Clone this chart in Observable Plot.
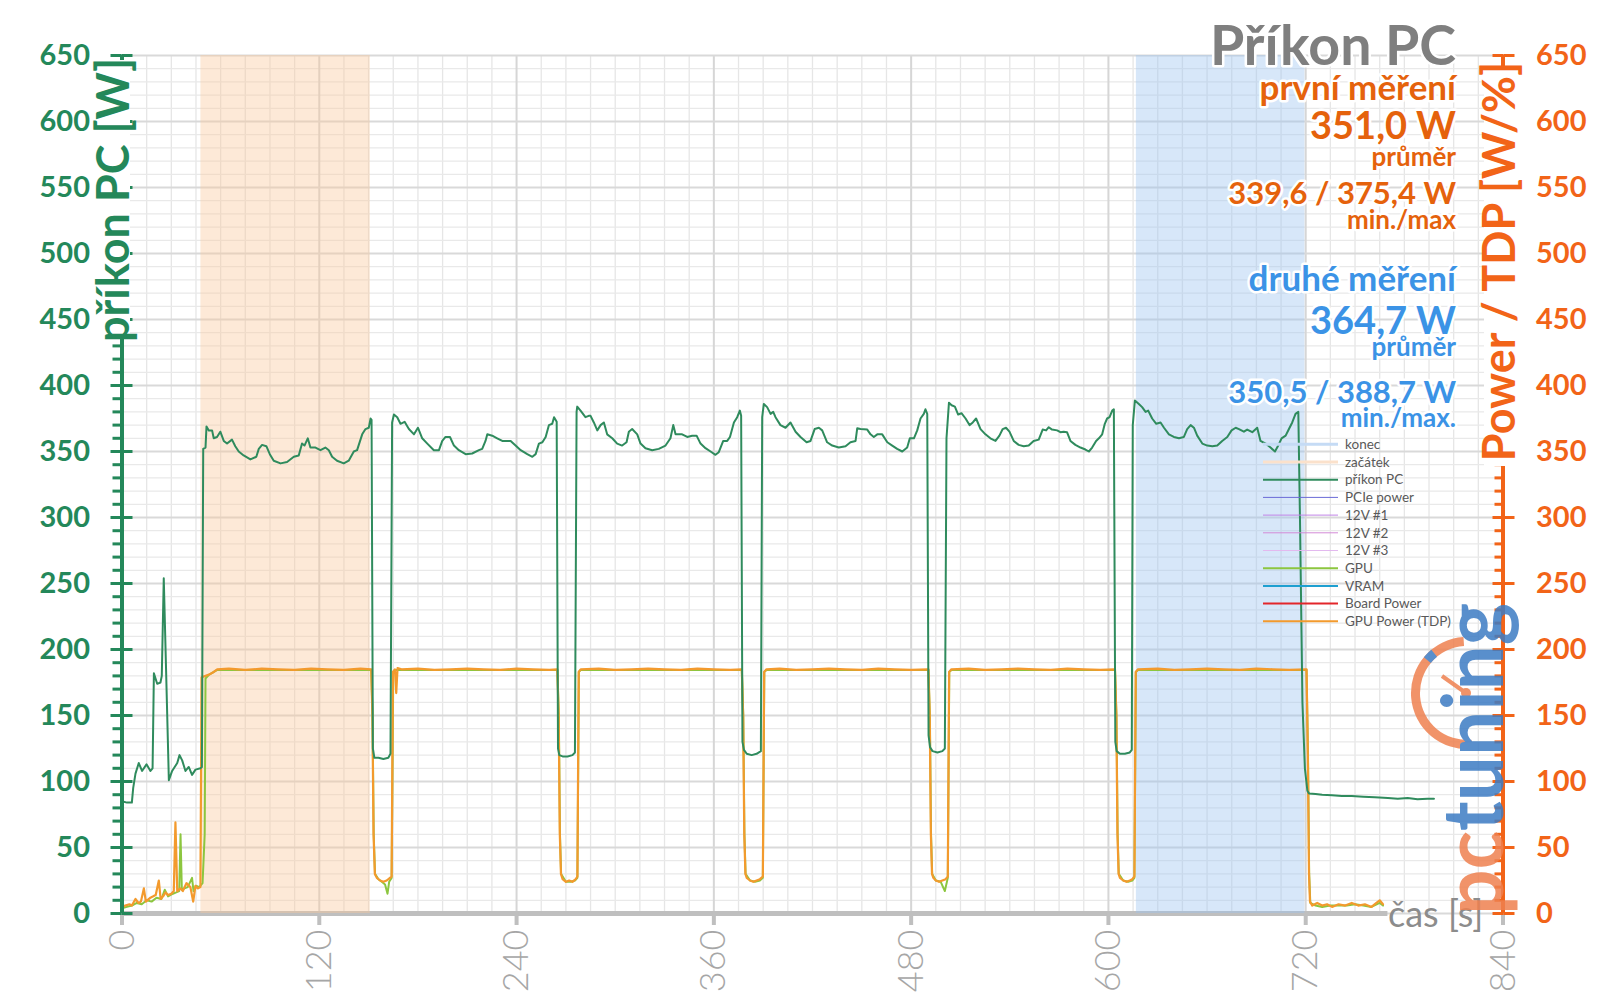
<!DOCTYPE html>
<html><head><meta charset="utf-8">
<script src="https://cdn.jsdelivr.net/npm/d3@7"></script>
<script src="https://cdn.jsdelivr.net/npm/@observablehq/plot@0.6"></script>
<style>
body{margin:0;background:#fff;}
#wrap{position:relative;width:1600px;height:1008px;overflow:hidden;font-family:Lato,"Noto Sans",sans-serif;}
#wrap svg{position:absolute;left:0;top:0;}
</style></head><body><div id="wrap"></div>
<script>
// ---------------- data ----------------
const xTicks = [0, 120, 240, 360, 480, 600, 720, 840];
const yTicks = [0, 50, 100, 150, 200, 250, 300, 350, 400, 450, 500, 550, 600, 650];
const zones = [
  {name: "začátek", start: 48, end: 151, color: "#fbc89a"},
  {name: "konec", start: 617, end: 719.5, color: "#9cc3f0"}
];
// příkon PC [W]  (time s, watts)
const pcPower = [
[0,85],[3,84],[6,84],[6.8,95],[8.2,106],[10.2,114],[12.2,108],[14.9,113],[17.3,108],[18.6,110],[19.4,182],[21.4,174],[23.4,175],[24.2,180],[25.4,254],[28.5,101],[30.5,108],[33.6,114],[35,120],[36.6,116],[38.6,108],[40.6,111],[42.6,105],[44.7,109],[47.7,110],[48.6,111],
[49.4,352],[50.8,353],[51.4,369],[52.8,366],[54.8,366],[55.8,360],[57.8,361],[59.8,365],[61.9,358],[63.9,356],[66.9,359],[68.9,354],[71,350],[74,347],[78.1,344],[81.7,346],[83.2,352],[85.2,355],[87.8,354],[89.9,348],[92.3,343],[96.4,341],[100.4,342],[104.5,346],[107.5,347],[109.5,356],[111,354.5],[113,360],[114.6,353],[117.7,353],[120.7,351],[123.7,353],[125.8,351],[127.8,346],[130.8,343],[134.9,341],[137.9,343],[141,350],[143,351],[146.1,363],[148.1,367],[150.1,368],[151.2,375],[151.8,374],
[152.6,125],[153.5,118],[156,118],[159,117],[162,118],[163.3,121],[164.3,372],[165.4,378],[167.4,376],[169.4,371],[171.9,372.5],[174.5,367],[177.6,363],[180,368],[182.6,360],[185.7,356],[189.7,351],[192.8,351],[194.8,358],[196.8,361],[199.5,361],[201.9,354.5],[204.9,351],[209,348],[213,348.5],[217.1,351],[219.1,352],[221.1,358],[222.2,363],[225.2,362],[228.2,360],[231.3,358],[236.4,358],[239.4,354.5],[242.5,351],[246.5,348],[249.6,346],[251.6,348],[253.6,356],[255.7,357],[257.7,361],[259.7,370],[261.7,371],[262.8,376],[264.4,372.5],
[265.2,125],[266,120],[268,119],[271,119],[274,120],[275.5,122],[276.5,380],[276.9,384],[278.9,381],[281.9,376],[283.9,377],[285,377],[287,372],[289.1,366],[291.1,370],[293.1,372],[295.1,363],[298.2,360],[301.2,356],[304.2,354.5],[306.9,357],[308.3,365],[310.3,367],[313.4,363],[315.4,356],[318.4,352.5],[322.5,351],[326.5,352],[330.6,354.5],[333.6,360],[335.3,370],[336.7,363],[340.7,363],[343.8,361],[346.8,362],[349.5,362],[351.9,356],[354.9,352.5],[358,350],[361,347.5],[363,349.5],[365.7,358],[368.1,358],[369.8,361],[372.2,372],[374.2,376],[375.8,381],[376.6,377],
[377.4,130],[378.3,124],[380,121],[383,120],[386,121],[388.6,123],[389.4,376],[390.4,386],[392.4,383.6],[394.5,378.5],[396.1,380],[397.5,376],[400.5,370],[403.6,368],[406.6,372],[409.7,365],[412.7,361],[416.4,357],[418.8,358],[421.3,367],[423.9,368],[425.9,366],[428.9,357],[432,354.5],[436,353],[440.1,354],[443.1,357],[446.2,358],[447.2,367.6],[449.2,367],[453.3,366.6],[455.3,363],[457.3,361],[459.4,363],[462.4,363],[465.5,357],[468.5,354.5],[471.5,352],[474.6,350],[477.6,353],[479.2,360],[481.7,360],[483.7,366],[485.7,375],[487.7,378.5],[488.7,382],[489.8,378.5],
[490.6,135],[491.5,126],[493,123],[496,122],[499,123],[500.5,125],[501.5,360],[503,387],[504.6,385],[506.6,384],[508.6,378],[510.6,379],[513.1,375],[515.5,370],[517.5,372],[519.5,375],[522.2,367],[525.2,363],[528.2,360],[531.3,358],[533.7,362],[535.7,367],[537.7,368],[539.8,365],[542.4,358],[545.4,355],[548.5,354],[551.5,354.5],[554.5,358],[557.6,359],[560,366.6],[562.1,366],[563.7,368.4],[565.7,366.6],[568.8,366],[570.8,364.6],[572.8,365],[574.8,364.6],[576.9,358],[579.9,355],[583,353],[586,351.5],[588.1,350],[590.1,353],[592.5,358],[594.2,360],[596.2,363],[597.8,371],[599.2,375],[600.7,376],[602.3,381],[603.3,382],
[604.2,130],[605,123],[607,121],[610,121],[613,122],[614.2,124],[614.8,370],[616.1,388.6],[618.5,386],[620.5,383.6],[622.6,380],[624.2,381],[626.6,375],[629.1,371],[631.7,372],[633.8,368],[636.8,363],[639.8,361],[642.9,360],[645.9,361],[647.9,367],[650,370],[652,368],[654,362],[657.1,356],[660.1,354.5],[663.2,354],[666.2,354.5],[669.2,358],[672.3,361],[674.9,366],[677.4,368],[679.4,367],[682.4,365],[684.4,366.6],[687.5,364.6],[690.5,368],[692.5,358],[695.6,356],[698.6,353],[701.3,350],[703.3,354.5],[705.3,360],[707.8,362],[709.8,367],[711.8,372],[713.8,378.5],[715.5,380],
[716.5,300],[718,160],[719.5,110],[721,93],[722,91],[726,90.5],[730,90],[736,89.5],[742,89],[748,89],[755,88.5],[762,88],[770,87.5],[776,87],[782,87.5],[788,86.5],[794,87],[798,87]
];
// GPU Power (TDP) [W]
const tdpPower = [
[0,5],[2,6],[4.5,7],[6,6],[8.2,11],[10,8],[11.5,9],[13.3,19],[14.5,9],[17.3,12],[19,13],[20.5,14],[22.4,25],[23.5,11],[25,13],[26.5,16],[28,14],[30,15],[31.5,17],[32.5,69],[33.6,17],[35.6,19],[37,17],[39.2,23],[41.6,20],[43.3,9],[44.7,21],[46,19],[47.7,20],
[48.4,179],[50.8,180],[53,181],[55.8,183],[57.9,185],[65,185.5],[75,184.5],[85,185.5],[95,185],[105,184.5],[115,185.5],[125,185],[135,184.5],[145,185.5],[151.6,185],
[152.3,150],[153,60],[153.8,30],[155,27],[157,25],[159,24],[161,25],[163,27],[164,28],[164.8,183],[166,185],[166.8,167],[167.6,186],[170,185],[180,185.5],[190,184.5],[200,185],[210,185.5],[220,185],[230,184.5],[240,185.5],[250,185],[260,184.5],[264.8,185],
[265.6,150],[266.3,60],[267,30],[268,26],[270,24],[272,25],[274,24],[276,26],[277,28],[277.8,183],[279,185],[290,185.5],[300,184.5],[310,185],[320,185.5],[330,185],[340,184.5],[350,185.5],[360,185],[370,184.5],[377,185],
[377.8,150],[378.5,60],[379.2,30],[380,27],[382,25],[384,24],[386,25],[388,26],[389.8,28],[390.6,183],[392,185],[400,185.5],[410,184.5],[420,185],[430,185.5],[440,185],[450,184.5],[460,185.5],[470,185],[480,184.5],[490.5,185],
[491.3,150],[492,60],[492.7,30],[493.5,27],[495,25],[497,24],[499,25],[501,26],[502.3,28],[503.1,183],[504.5,185],[515,185.5],[525,184.5],[535,185],[545,185.5],[555,185],[565,184.5],[575,185.5],[585,185],[595,184.5],[604,185],
[604.8,150],[605.5,60],[606.2,30],[607,27],[609,25],[611,24],[613,25],[614.5,26],[615.8,28],[616.6,183],[618,185],[630,185.5],[640,184.5],[650,185],[660,185.5],[670,185],[680,184.5],[690,185.5],[700,185],[710,184.5],[720.5,185],
[721.3,120],[722,30],[722.6,9],[724,6],[727,8],[730,6],[733,7],[736,5],[740,7],[744,6],[748,8],[752,6],[756,7],[760,5],[763,8],[765,10],[767,7]
];
// GPU [W]
const gpuPower = [
[0,4],[3,5],[6,6],[9,8],[12,7],[15,10],[18,9],[21,12],[24,11],[26,18],[28,13],[31,15],[33,16],[34.8,17],[35.6,60],[36.4,18],[38,19],[40,20],[42.6,27],[43.5,17],[45,21],[47,20],[49,23],[50.3,60],[50.8,178],[53,181],[58,184.5],[151.6,184.5],
[152.4,150],[153.1,60],[153.9,30],[156,26],[158,24],[160,22],[161.5,15],[162.5,24],[164,27],[165,183],[166,184.5],[264.8,184.5],
[265.7,150],[266.4,60],[267.1,30],[270,24],[273,24],[275.5,25],[277,27],[277.9,183],[279,184.5],[377,184.5],
[377.9,150],[378.6,60],[379.3,30],[382,25],[385,24],[388,25],[389.8,27],[390.7,183],[392,184.5],[490.5,184.5],
[491.4,150],[492.1,60],[492.8,30],[495,25],[498,24],[500.5,17],[502.3,27],[503.2,183],[504.5,184.5],[604,184.5],
[604.9,150],[605.6,60],[606.3,30],[609,25],[612,24],[614.5,25],[615.8,27],[616.7,183],[618,184.5],[720.5,184.5],
[721.4,120],[722.1,30],[722.8,8],[726,6],[730,5],[735,6],[740,6],[745,6],[750,7],[755,6],[760,5],[765,8],[767,6]
];
const legendItems = [
  {label: "konec", color: "#c5dbf5", width: 3},
  {label: "začátek", color: "#fbe1cb", width: 3},
  {label: "příkon PC", color: "#2f8b5d", width: 2},
  {label: "PCIe power", color: "#6b6bd6", width: 1},
  {label: "12V #1", color: "#c084e6", width: 1},
  {label: "12V #2", color: "#d38bd8", width: 1},
  {label: "12V #3", color: "#e3b9ef", width: 1},
  {label: "GPU", color: "#8cc63f", width: 2},
  {label: "VRAM", color: "#1e9fd0", width: 2},
  {label: "Board Power", color: "#e3262b", width: 2},
  {label: "GPU Power (TDP)", color: "#f39a2d", width: 2}
];
const firstRun = {head: "první měření", avg: "351,0 W", avgLabel: "průměr", range: "339,6 / 375,4 W", rangeLabel: "min./max"};
const secondRun = {head: "druhé měření", avg: "364,7 W", avgLabel: "průměr", range: "350,5 / 388,7 W", rangeLabel: "min./max."};

// ---------------- chart ----------------
const FONT = "Lato, 'Noto Sans', sans-serif";
const GREEN = "#24885a", ORANGE = "#f26418", GRAY = "#a6a6a6";
const minorX = d3.range(0, 841, 15).filter(d => d % 120);
const minorY = d3.range(0, 651, 10).filter(d => d % 50);
const rows = a => a.map(([t, v]) => ({t, v}));
const xAxisEnd = 770;

const plot = Plot.plot({
  width: 1600, height: 1008,
  marginLeft: 121.5, marginRight: 97.5, marginTop: 55, marginBottom: 95,
  x: {domain: [0, 840]},
  y: {domain: [0, 650]},
  style: {fontFamily: FONT, background: "none", overflow: "visible"},
  marks: [
    Plot.gridX(minorX, {stroke: "#e6e6e6", strokeOpacity: 1, strokeWidth: 1.3}),
    Plot.gridY(minorY, {stroke: "#e9e9e9", strokeOpacity: 1, strokeWidth: 1.3}),
    Plot.gridX(xTicks, {stroke: "#d6d6d6", strokeOpacity: 1, strokeWidth: 2}),
    Plot.gridY(yTicks, {stroke: "#d9d9d9", strokeOpacity: 1, strokeWidth: 1.8}),
    Plot.ruleY([0], {x1: 0, x2: xAxisEnd, stroke: "#bfbfbf", strokeWidth: 5}),
    Plot.axisX(xTicks, {anchor: "bottom", tickSize: 12, tickPadding: 4, stroke: "#bfbfbf", strokeWidth: 4, strokeOpacity: 1,
      tickRotate: -90, fontSize: 36, fill: GRAY, fontWeight: 300, label: null}),
    Plot.rect(zones, {x1: "start", x2: "end", y1: 0, y2: 650, fill: "color", fillOpacity: 0.4}),
    Plot.line(rows(gpuPower), {x: "t", y: "v", stroke: "#8cc63f", strokeWidth: 2}),
    Plot.line(rows(tdpPower), {x: "t", y: "v", stroke: "#f39a2d", strokeWidth: 2.2}),
    Plot.line(rows(pcPower), {x: "t", y: "v", stroke: "#2f8b5d", strokeWidth: 2}),
    // left axis
    Plot.ruleX([0], {stroke: GREEN, strokeWidth: 4}),
    Plot.axisY(minorY, {anchor: "left", tickSize: 9, stroke: GREEN, strokeWidth: 3, strokeOpacity: 1, text: null, label: null}),
    Plot.axisY(yTicks, {anchor: "left", tickSize: 11, tickPadding: 21, stroke: GREEN, strokeWidth: 3, strokeOpacity: 1,
      fill: GREEN, fontSize: 29, fontWeight: "bold", label: null}),
    Plot.axisY(yTicks, {anchor: "left", tickSize: 11, dx: 11, stroke: GREEN, strokeWidth: 3, strokeOpacity: 1, text: null, label: null}),
    // right axis
    Plot.ruleX([840], {stroke: ORANGE, strokeWidth: 4}),
    Plot.axisY(minorY, {anchor: "right", tickSize: 9, dx: -9, stroke: ORANGE, strokeWidth: 3, strokeOpacity: 1, text: null, label: null}),
    Plot.axisY(yTicks, {anchor: "right", tickSize: 11, tickPadding: 22, stroke: ORANGE, strokeWidth: 3, strokeOpacity: 1,
      fill: ORANGE, fontSize: 29, fontWeight: "bold", label: null}),
    Plot.axisY(yTicks, {anchor: "right", tickSize: 11, dx: -11, stroke: ORANGE, strokeWidth: 3, strokeOpacity: 1, text: null, label: null})
  ]
});
const wrap = document.getElementById("wrap");
wrap.appendChild(plot);

// ---------------- overlay: titles, legend, logo ----------------
const ov = d3.select(wrap).append("svg").attr("width", 1600).attr("height", 1008)
  .style("font-family", FONT);

// axis titles
ov.append("rect").attr("x", 96).attr("y", 60).attr("width", 34).attr("height", 274).attr("fill", "#fff");
ov.append("text").attr("transform", "translate(129,58) rotate(-90)").attr("text-anchor", "end")
  .attr("font-size", 45).attr("font-weight", "bold").attr("fill", GREEN).text("příkon PC [W]");
ov.append("rect").attr("x", 1484).attr("y", 66).attr("width", 33).attr("height", 400).attr("fill", "#fff");
ov.append("text").attr("transform", "translate(1515,62) rotate(-90)").attr("text-anchor", "end")
  .attr("font-size", 45).attr("font-weight", "bold").attr("fill", ORANGE).text("Power / TDP [W/%]");

// x axis title
ov.append("text").attr("x", 1388).attr("y", 927).attr("font-size", 36).attr("fill", "#8c8c8c").text("čas [s]");

// summary text block
const halo = sel => sel.attr("stroke", "#fff").attr("stroke-width", 5).attr("paint-order", "stroke").attr("stroke-linejoin", "round");
const RX = 1456;
const block = [
  {text: "Příkon PC", y: 65, size: 55.5, color: "#7f7f7f"},
  {text: firstRun.head, y: 100, size: 35, color: "#e5620c"},
  {text: firstRun.avg, y: 139, size: 38, color: "#e5620c"},
  {text: firstRun.avgLabel, y: 166, size: 26, color: "#e5620c"},
  {text: firstRun.range, y: 204, size: 31, color: "#e5620c"},
  {text: firstRun.rangeLabel, y: 229, size: 26, color: "#e5620c"},
  {text: secondRun.head, y: 291, size: 35, color: "#3b93e6"},
  {text: secondRun.avg, y: 334, size: 38, color: "#3b93e6"},
  {text: secondRun.avgLabel, y: 356, size: 26, color: "#3b93e6"},
  {text: secondRun.range, y: 403, size: 31, color: "#3b93e6"},
  {text: secondRun.rangeLabel, y: 427, size: 26, color: "#3b93e6"}
];
ov.selectAll("text.blk").data(block).join("text").attr("class", "blk")
  .attr("x", RX).attr("y", d => d.y).attr("text-anchor", "end").attr("font-weight", "bold")
  .attr("font-size", d => d.size).attr("fill", d => d.color).text(d => d.text).call(halo);

// legend
const lg = ov.append("g");
legendItems.forEach((d, i) => {
  const y = 444.3 + i * 17.7;
  lg.append("line").attr("x1", 1263).attr("x2", 1338).attr("y1", y).attr("y2", y)
    .attr("stroke", d.color).attr("stroke-width", d.width);
  lg.append("text").attr("x", 1345).attr("y", y).attr("dy", "0.35em").attr("font-size", 13.5)
    .attr("fill", "#595959").text(d.label);
});

// logo (watermark)
const logo = ov.append("g").attr("opacity", 0.85);
const arc = d3.arc()({innerRadius: 47, outerRadius: 56, startAngle: -Math.PI * 0.02, endAngle: -Math.PI * 1.03});
logo.append("path").attr("d", arc).attr("transform", "translate(1467,693)").attr("fill", "#ef8150");
const arcB = d3.arc()({innerRadius: 47, outerRadius: 56, startAngle: -Math.PI * 0.22, endAngle: -Math.PI * 0.28});
logo.append("path").attr("d", arcB).attr("transform", "translate(1467,693)").attr("fill", "#3d7cc4");
logo.append("line").attr("x1", 1466).attr("y1", 693).attr("x2", 1442).attr("y2", 676).attr("stroke", "#ef8150").attr("stroke-width", 4);
logo.append("circle").attr("cx", 1466).attr("cy", 693).attr("r", 5).attr("fill", "#ef8150");
const lt = logo.append("text").attr("transform", "translate(1503,915) rotate(-90)")
  .attr("font-size", 84).attr("font-weight", "bold").attr("textLength", 312).attr("lengthAdjust", "spacingAndGlyphs");
lt.append("tspan").attr("fill", "#ef8150").text("pc");
lt.append("tspan").attr("fill", "#3d7cc4").text("tuning");
</script></body></html>
